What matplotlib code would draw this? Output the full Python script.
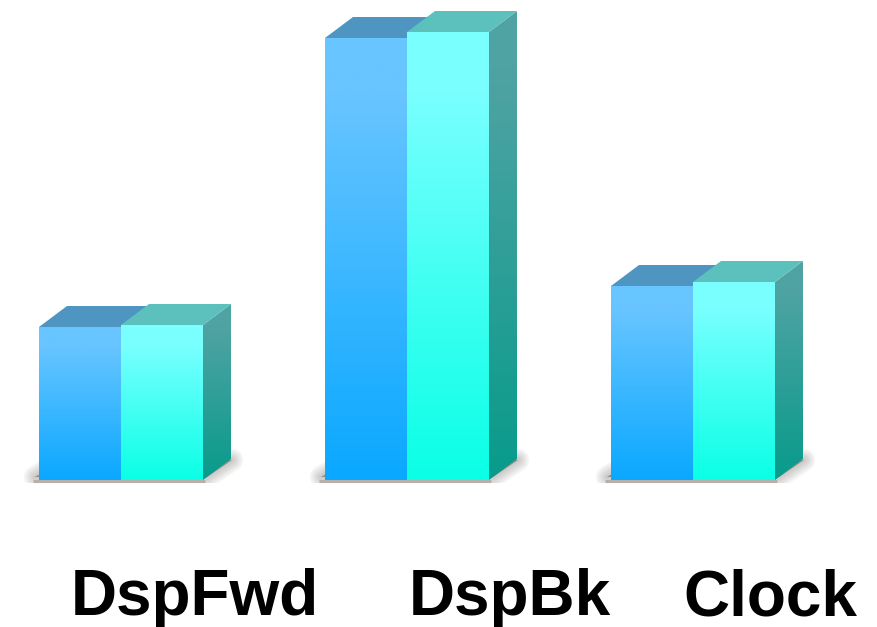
# Grouped pseudo-3D bars with vertical gradients and a soft floor shadow
import numpy as np
import matplotlib
matplotlib.use("Agg")
import matplotlib.pyplot as plt
from matplotlib.colors import to_rgb
from matplotlib.patches import Polygon, Rectangle

# Data
categories = ["DspFwd", "DspBk", "Clock"]
series_blue = [153, 442, 194]
series_cyan = [155, 448, 198]

# Geometry, in pixels of the final image
GROUP_STEP = 286.0
BAR_W = 82.0 / GROUP_STEP
DX = 28.0 / GROUP_STEP
DY = 21.0
PX = 1.0 / GROUP_STEP
label_x = [195, 510, 770]

blue_front = ("#68c5ff", "#0aa8ff")
blue_top = "#4e96c1"
cyan_front = ("#7affff", "#0affe6")
cyan_top = "#5cc1bc"
cyan_side = ("#50a3a3", "#089b8b")


def gradient_poly(ax, points, colors, zorder):
    # Fill a polygon with a top-to-bottom colour ramp, flat for the first stretch
    points = np.array(points)
    top = np.array(to_rgb(colors[0]))
    bottom = np.array(to_rgb(colors[1]))
    ramp = np.clip((np.linspace(0, 1, 256) - 0.12) / 0.88, 0, 1)[:, None, None]
    img = top[None, None, :] * (1 - ramp) + bottom[None, None, :] * ramp
    extent = (points[:, 0].min(), points[:, 0].max(),
              points[:, 1].min(), points[:, 1].max())
    im = ax.imshow(img, extent=extent, origin="upper", aspect="auto",
                   interpolation="bilinear", zorder=zorder)
    clip = Polygon(points, closed=True, transform=ax.transData,
                   facecolor="none", edgecolor="none")
    ax.add_patch(clip)
    im.set_clip_path(clip)


def draw_shadow(ax, x0):
    # Stacked translucent outlines give the blurred edge, cut off at the floor line
    pts = [(x0 - 4 * PX, 3), (x0 + 24 * PX, 20), (x0 + 193 * PX, 20),
           (x0 + 168 * PX, 3)]
    floor = Rectangle((x0 - 40 * PX, -3), 300 * PX, 40, transform=ax.transData,
                      facecolor="none", edgecolor="none")
    ax.add_patch(floor)
    for lw in np.arange(16, 0, -3):
        p = Polygon(pts, closed=True, facecolor="none", edgecolor="#6f6a66",
                    linewidth=lw, alpha=0.07, joinstyle="round", zorder=1)
        ax.add_patch(p)
        p.set_clip_path(floor)
    ax.add_patch(Polygon(pts, closed=True, facecolor="#6f6a66",
                         edgecolor="none", alpha=0.6, zorder=1))
    # thin line under the front faces
    ax.plot([x0 - 6 * PX, x0 + 166 * PX], [-1, -1], color="#b5b0ac", lw=2.2,
            solid_capstyle="butt", zorder=2)


def draw_bar(ax, x0, value, front, top_color, side, zorder):
    x1 = x0 + BAR_W
    if side is not None:
        gradient_poly(ax, [(x1, 0), (x1 + DX, DY), (x1 + DX, value + DY), (x1, value)],
                      side, zorder)
    ax.add_patch(Polygon([(x0, value), (x0 + DX, value + DY), (x1 + DX, value + DY),
                          (x1, value)], closed=True, facecolor=top_color,
                         edgecolor="none", zorder=zorder))
    gradient_poly(ax, [(x0, 0), (x0, value), (x1, value), (x1, 0)], front, zorder + 0.5)


fig = plt.figure(figsize=(8.77, 6.27), dpi=100, facecolor="white")
ax = fig.add_axes([0, 0, 1, 1])

for i in range(len(categories)):
    draw_shadow(ax, i - BAR_W)
    draw_bar(ax, i - BAR_W, series_blue[i], blue_front, blue_top, None, 3)
    draw_bar(ax, i, series_cyan[i], cyan_front, cyan_top, cyan_side, 5)

# One group step is 286 px and one value unit is 1 px
ax.set_xlim(-121 * PX, (877 - 121) * PX)
ax.set_ylim(-147, 480)
ax.axis("off")

for name, lx in zip(categories, label_x):
    fig.text(lx / 877, 1 - 615 / 627, name, ha="center", va="baseline",
             family="Liberation Sans", fontweight="bold", fontsize=46,
             color="black")

fig.savefig("out.png", dpi=100)
